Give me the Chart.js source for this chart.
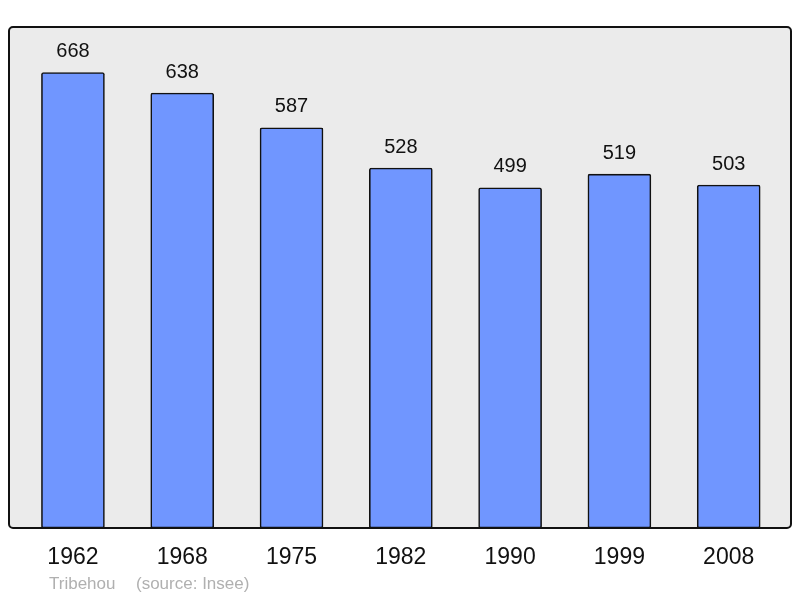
<!DOCTYPE html>
<html>
<head>
<meta charset="utf-8">
<script src="https://cdn.jsdelivr.net/npm/chart.js@4"></script>
<style>
  html, body { margin: 0; padding: 0; background: #fff; }
  #wrap { width: 800px; height: 598px; position: relative; }
</style>
</head>
<body>
<div id="wrap"><canvas id="chart"></canvas></div>
<script>
const years = ["1962", "1968", "1975", "1982", "1990", "1999", "2008"];
const population = [668, 638, 587, 528, 499, 519, 503];
const footerName = "Tribehou";
const footerSource = "(source: Insee)";

const FONT = "'Liberation Sans', Arial, sans-serif";

// grey box behind the bars
const framePlugin = {
  id: "frame",
  beforeDraw(chart) {
    const { ctx, chartArea: a } = chart;
    ctx.save();
    ctx.beginPath();
    ctx.roundRect(a.left, a.top, a.right - a.left, a.bottom - a.top, 4);
    ctx.fillStyle = "#ebebeb";
    ctx.fill();
    ctx.restore();
  },
  afterDraw(chart) {
    const { ctx, chartArea: a } = chart;
    ctx.save();
    ctx.beginPath();
    ctx.roundRect(a.left, a.top, a.right - a.left, a.bottom - a.top, 4);
    ctx.lineWidth = 2;
    ctx.strokeStyle = "#111";
    ctx.stroke();
    // footer
    ctx.font = "17px " + FONT;
    ctx.fillStyle = "#b0b0b0";
    ctx.textBaseline = "middle";
    ctx.fillText(footerName, 49, 584);
    ctx.fillText(footerSource, 136, 584);
    ctx.restore();
  },
};

// value above each bar
const valueLabels = {
  id: "valueLabels",
  afterDatasetsDraw(chart) {
    const { ctx } = chart;
    const meta = chart.getDatasetMeta(0);
    ctx.save();
    ctx.font = "20px " + FONT;
    ctx.fillStyle = "#111";
    ctx.textAlign = "center";
    ctx.textBaseline = "middle";
    meta.data.forEach((bar, i) => {
      ctx.fillText(population[i], bar.x, bar.y - 21);
    });
    ctx.restore();
  },
};

new Chart(document.getElementById("chart"), {
  type: "bar",
  data: {
    datasets: [{
      data: population.map((v, i) => ({ x: i, y: v })),
      backgroundColor: "#7096ff",
      borderColor: "#111",
      borderWidth: 1.6,
      borderRadius: 2,
      borderSkipped: false,
      barThickness: 63,
    }],
  },
  options: {
    responsive: true,
    maintainAspectRatio: false,
    animation: false,
    layout: { padding: { left: 9, right: 9, top: 27, bottom: 0 } },
    plugins: {
      legend: { display: false },
      tooltip: { enabled: false },
    },
    scales: {
      x: {
        type: "linear",
        offset: false,
        min: -0.585,
        max: 6.57,
        grid: { display: false, drawTicks: false },
        border: { display: false },
        afterBuildTicks: (scale) => {
          scale.ticks = years.map((_, i) => ({ value: i }));
        },
        afterFit: (scale) => { scale.height = 70; },
        ticks: {
          padding: 16,
          color: "#111",
          font: { size: 23, family: FONT },
          maxRotation: 0,
          autoSkip: false,
          callback: (v) => years[v],
        },
      },
      y: {
        display: false,
        min: 0,
        max: 734.8,
      },
    },
  },
  plugins: [framePlugin, valueLabels],
});
</script>
</body>
</html>
